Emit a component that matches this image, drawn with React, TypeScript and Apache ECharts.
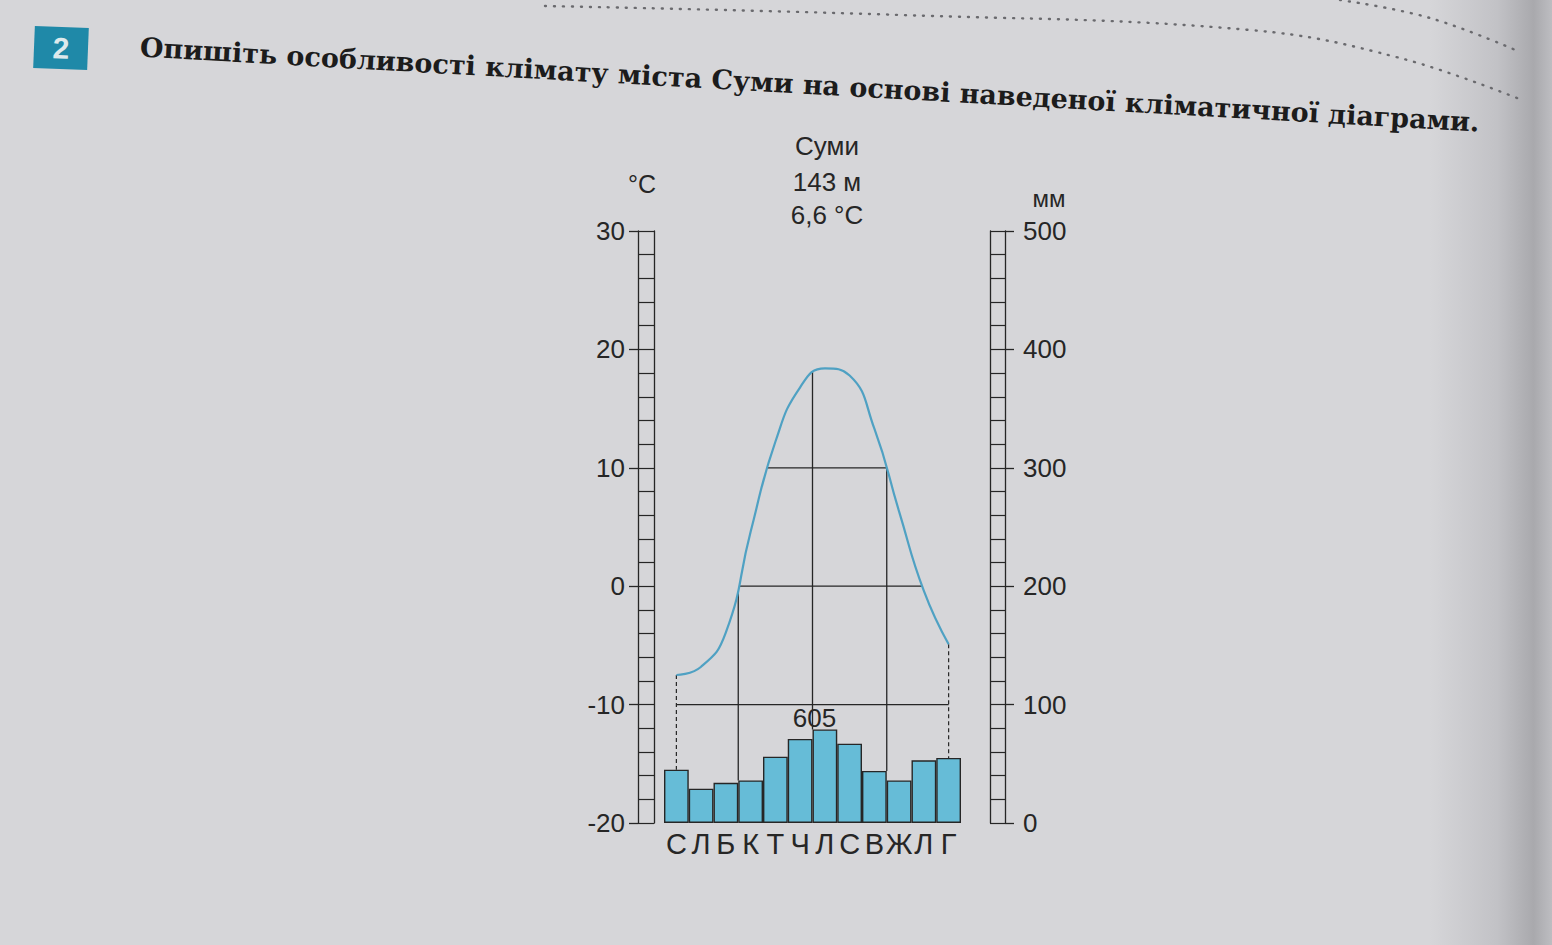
import React, { useEffect, useRef } from "react";
import * as echarts from "echarts";

// ---- data ----
const months = ["С", "Л", "Б", "К", "Т", "Ч", "Л", "С", "В", "Ж", "Л", "Г"];
const temperature = [-7.5, -6.8, -3.9, 4.6, 12.2, 16.8, 18.4, 17.8, 13.3, 6.3, -0.4, -4.9];
const precipitation = [45, 29, 34, 36, 56, 71, 79, 67, 44, 36, 53, 55];
const tempTicks = [-20, -10, 0, 10, 20, 30];
const precipTicks = [0, 100, 200, 300, 400, 500];
const gridTemps = [-10, 0, 10];
const quarterBoundaries = [3, 6, 9];
const stationName = "Суми";
const stationAltitude = "143 м";
const stationMeanTemp = "6,6 °C";
const annualPrecip = "605";
const taskNumber = "2";
const taskText = "Опишіть особливості клімату міста Суми на основі наведеної кліматичної діаграми.";

const BG = "#d6d6d9";
const INK = "#262626";
const FONT = "'Liberation Sans', Arial, sans-serif";
const NARROW = "'Liberation Sans Narrow', 'Arial Narrow', 'Liberation Sans', sans-serif";

const tMin = tempTicks[0];
const tMax = tempTicks[tempTicks.length - 1];
const pMin = precipTicks[0];
const pMax = precipTicks[precipTicks.length - 1];
const precipToTemp = (p: number) => tMin + ((p - pMin) / (pMax - pMin)) * (tMax - tMin);

export default function App() {
  const ref = useRef<HTMLDivElement>(null);

  useEffect(() => {
    document.body.style.margin = "0";
    if (!ref.current) return;
    const chart = echarts.init(ref.current, undefined, { renderer: "svg" });

    const lineStyle = { stroke: INK, lineWidth: 1.3 };

    const option: any = {
      animation: false,
      backgroundColor: BG,
      grid: { left: 664, right: 591, top: 231, bottom: 122, containLabel: false },
      xAxis: {
        type: "category",
        data: months,
        boundaryGap: true,
        axisLine: { show: false, onZero: false },
        axisTick: { show: false },
        axisLabel: { fontSize: 29, color: INK, margin: 6, fontFamily: NARROW, interval: 0 },
        splitLine: { show: false },
      },
      yAxis: [
        {
          type: "value", min: tMin, max: tMax, interval: 10, position: "left", offset: 26,
          axisLine: { show: true, lineStyle: { color: INK, width: 1.3 } },
          axisTick: { show: true, length: 9, lineStyle: { color: INK, width: 1.3 } },
          axisLabel: { fontSize: 26, color: INK, margin: 13, fontFamily: NARROW },
          splitLine: { show: false },
        },
        {
          type: "value", min: tMin, max: tMax, interval: 2, position: "left", offset: 26,
          axisLine: { show: false },
          axisTick: { show: true, inside: true, length: 16, lineStyle: { color: INK, width: 1.2 } },
          axisLabel: { show: false },
          splitLine: { show: false },
        },
        {
          type: "value", min: tMin, max: tMax, position: "left", offset: 10,
          axisLine: { show: true, lineStyle: { color: INK, width: 1.3 } },
          axisTick: { show: false },
          axisLabel: { show: false },
          splitLine: { show: false },
        },
        {
          type: "value", min: pMin, max: pMax, interval: 100, position: "right", offset: 44,
          axisLine: { show: true, lineStyle: { color: INK, width: 1.3 } },
          axisTick: { show: true, length: 9, lineStyle: { color: INK, width: 1.3 } },
          axisLabel: { fontSize: 26, color: INK, margin: 18, fontFamily: NARROW },
          splitLine: { show: false },
        },
        {
          type: "value", min: pMin, max: pMax, interval: 20, position: "right", offset: 44,
          axisLine: { show: false },
          axisTick: { show: true, inside: true, length: 15, lineStyle: { color: INK, width: 1.2 } },
          axisLabel: { show: false },
          splitLine: { show: false },
        },
        {
          type: "value", min: pMin, max: pMax, position: "right", offset: 29,
          axisLine: { show: true, lineStyle: { color: INK, width: 1.3 } },
          axisTick: { show: false },
          axisLabel: { show: false },
          splitLine: { show: false },
        },
      ],
      series: [
        {
          type: "custom",
          xAxisIndex: 0,
          yAxisIndex: 0,
          silent: true,
          z: 2,
          data: [0],
          renderItem: (_params: any, api: any) => {
            const children: any[] = [];
            const last = months.length - 1;
            const x0 = api.coord([0, 0])[0];
            const xN = api.coord([last, 0])[0];
            gridTemps.forEach((t) => {
              const y = api.coord([0, t])[1];
              const inset = t > Math.min(temperature[0], temperature[last]) ? 2 : 0;
              children.push({
                type: "line",
                shape: { x1: x0 + inset, y1: y, x2: xN - inset, y2: y },
                style: lineStyle,
              });
            });
            quarterBoundaries.forEach((b) => {
              const x = (api.coord([b - 1, 0])[0] + api.coord([b, 0])[0]) / 2;
              const pTop = Math.max(precipitation[b - 1], precipitation[b]);
              const yBottom = api.coord([b, precipToTemp(pTop)])[1];
              const yTop = api.coord([b, tMax])[1];
              children.push({ type: "line", shape: { x1: x, y1: yTop, x2: x, y2: yBottom }, style: lineStyle });
            });
            [0, last].forEach((i) => {
              const x = api.coord([i, 0])[0];
              const y1 = api.coord([i, temperature[i]])[1];
              const y2 = api.coord([i, precipToTemp(precipitation[i])])[1];
              children.push({
                type: "line",
                shape: { x1: x, y1, x2: x, y2 },
                style: { stroke: INK, lineWidth: 1.2, lineDash: [4, 3] },
              });
            });
            // annual precipitation label, between the -10 line and the July bar
            const xb = (api.coord([5, 0])[0] + api.coord([6, 0])[0]) / 2;
            const yLine = api.coord([0, gridTemps[0]])[1];
            const yBar = api.coord([6, precipToTemp(precipitation[6])])[1];
            children.push({
              type: "text",
              x: xb + 2,
              y: (yLine + yBar) / 2 + 1,
              style: {
                text: annualPrecip, fill: INK, fontSize: 26, fontFamily: NARROW,
                align: "center", verticalAlign: "middle", textAlign: "center", textVerticalAlign: "middle",
              },
            });
            return { type: "group", children };
          },
        },
        {
          type: "bar",
          xAxisIndex: 0,
          yAxisIndex: 3,
          data: precipitation,
          barCategoryGap: "0%",
          z: 3,
          itemStyle: { color: "#66bcd7", borderColor: INK, borderWidth: 1.4 },
        },
        {
          type: "line",
          xAxisIndex: 0,
          yAxisIndex: 0,
          data: temperature,
          smooth: true,
          symbol: "none",
          z: 4,
          lineStyle: { color: "#4fa1c3", width: 2.2 },
          areaStyle: { origin: "end", color: BG, opacity: 1 },
        },
      ],
      graphic: [
        {
          type: "rect",
          silent: true,
          z: -10,
          shape: { x: 1430, y: 0, width: 122, height: 945 },
          style: {
            fill: {
              type: "linear", x: 0, y: 0, x2: 1, y2: 0,
              colorStops: [
                { offset: 0, color: BG },
                { offset: 0.55, color: "#c2c2c6" },
                { offset: 0.85, color: "#a9a9ad" },
                { offset: 1, color: "#bdbdc1" },
              ],
            },
          },
        },
        {
          type: "polyline",
          silent: true,
          shape: { points: [[545, 6], [900, 15], [1250, 30], [1400, 58], [1522, 100]], smooth: 0.4 },
          style: { stroke: "#6a6a6e", lineWidth: 2.4, lineDash: [1, 8], lineCap: "round", fill: null },
        },
        {
          type: "polyline",
          silent: true,
          shape: { points: [[1340, 0], [1430, 18], [1520, 52]], smooth: 0.4 },
          style: { stroke: "#6a6a6e", lineWidth: 2.4, lineDash: [1, 8], lineCap: "round", fill: null },
        },
        {
          type: "group",
          x: 61,
          y: 48,
          rotation: -0.04,
          children: [
            { type: "rect", shape: { x: -27, y: -21, width: 54, height: 42 }, style: { fill: "#1f89a8" } },
            {
              type: "text",
              style: {
                text: taskNumber, fill: "#dde9ec", fontSize: 30, fontWeight: "bold", fontFamily: FONT,
                align: "center", verticalAlign: "middle", textAlign: "center", textVerticalAlign: "middle",
              },
            },
          ],
        },
        {
          type: "text",
          x: 140,
          y: 47,
          rotation: -0.056,
          style: {
            text: taskText, fill: "#1c1c1c", fontSize: 27, fontWeight: "bold", fontFamily: "'DejaVu Serif', serif",
            align: "left", verticalAlign: "middle", textAlign: "left", textVerticalAlign: "middle",
          },
        },
        ...[
          { t: stationName, y: 146 },
          { t: stationAltitude, y: 182 },
          { t: stationMeanTemp, y: 215 },
        ].map((o) => ({
          type: "text",
          x: 827,
          y: o.y,
          style: {
            text: o.t, fill: INK, fontSize: 26, fontFamily: FONT,
            align: "center", verticalAlign: "middle", textAlign: "center", textVerticalAlign: "middle",
          },
        })),
        {
          type: "text",
          x: 642,
          y: 184,
          style: {
            text: "°C", fill: INK, fontSize: 25, fontFamily: FONT,
            align: "center", verticalAlign: "middle", textAlign: "center", textVerticalAlign: "middle",
          },
        },
        {
          type: "text",
          x: 1049,
          y: 198,
          style: {
            text: "мм", fill: INK, fontSize: 24, fontFamily: FONT,
            align: "center", verticalAlign: "middle", textAlign: "center", textVerticalAlign: "middle",
          },
        },
      ],
    };

    chart.setOption(option);
    return () => chart.dispose();
  }, []);

  return (
    <div
      ref={ref}
      style={{ position: "absolute", left: 0, top: 0, width: 1552, height: 945 }}
    />
  );
}
